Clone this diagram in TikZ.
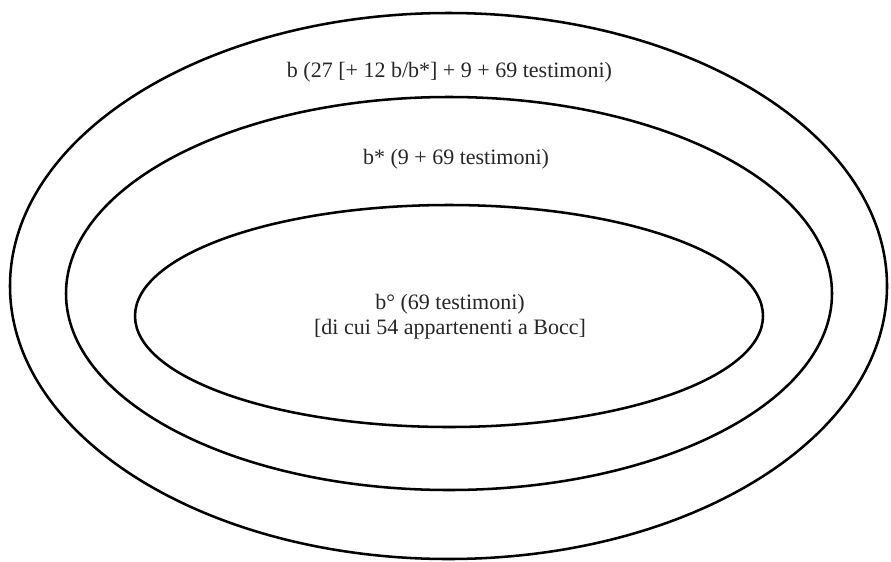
\documentclass[tikz,border=0pt]{standalone}
\usepackage{fontspec}
\setmainfont{Liberation Serif}
\usetikzlibrary{shapes.geometric}
\begin{document}
\begin{tikzpicture}[x=0.75pt,y=-0.75pt,
  ring/.style={draw=black, line width=1.9pt, ellipse, inner sep=0pt, fill=none},
  label/.style={font=\fontsize{16.5}{18.75}\selectfont, inner sep=0pt, align=center, text=black!85}]
\useasboundingbox (0,0) rectangle (891,561);
\node[ring, minimum width=657.75pt, minimum height=409.5pt] (outer) at (448.5,286) {};
\node[ring, minimum width=574.5pt, minimum height=294.75pt] (middle) at (449,293.5) {};
\node[ring, minimum width=471pt, minimum height=166.5pt] (inner) at (449,316) {};
\node[label, anchor=base] (tb) at (449.5,77) {b (27 [+ 12 b/b*] + 9 + 69 testimoni)};
\node[label, anchor=base] (tbs) at (456,164) {b* (9 + 69 testimoni)};
\node[label, anchor=center] (tbo) at (450,317) {b° (69 testimoni)\\{}{[}di cui 54 appartenenti a Bocc{]}};
\end{tikzpicture}
\end{document}
